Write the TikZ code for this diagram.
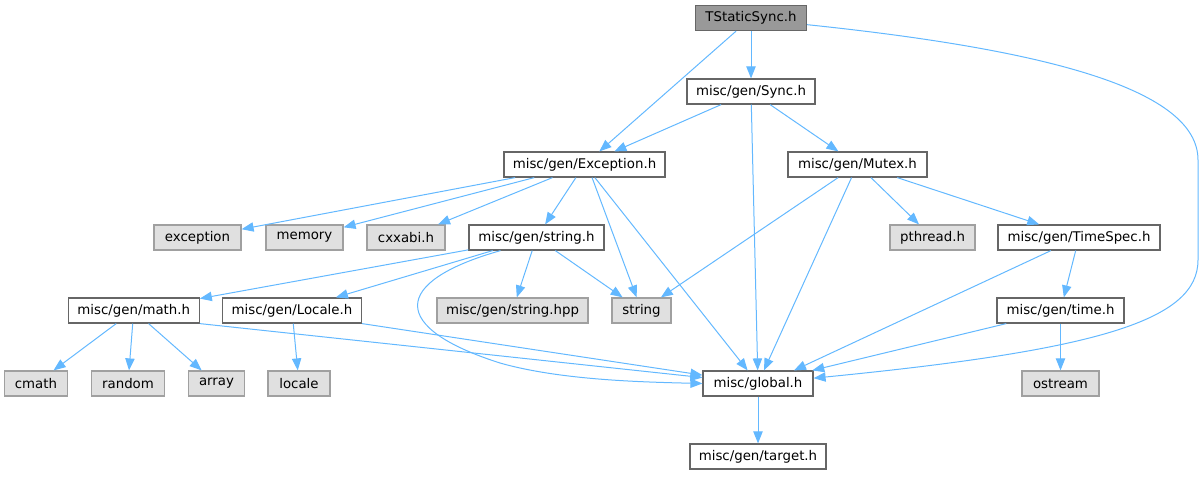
\documentclass[tikz,border=0pt]{standalone}
\usepackage{fontspec}
\setmainfont{DejaVu Sans}
\usetikzlibrary{arrows.meta}

\definecolor{edgeblue}{HTML}{63B8FF}
\definecolor{fileline}{HTML}{666666}
\definecolor{extline}{HTML}{A0A0A0}
\definecolor{extfill}{HTML}{E0E0E0}
\definecolor{rootfill}{HTML}{999999}

\begin{document}
\begin{tikzpicture}[x=0.75pt,y=-0.75pt,->,>={Triangle[length=9pt,width=7pt]},
                    edgeblue,line width=0.75pt,
                    file/.style={rectangle,draw=fileline,fill=white,text=black,inner sep=0pt,
                                 minimum height=18.75pt,minimum width=#1,line width=0.9pt,
                                 font=\fontsize{10pt}{12pt}\selectfont},
                    ext/.style={file=#1,draw=extline,fill=extfill},
                    root/.style={file=#1,fill=rootfill}]

  \useasboundingbox (0,0) rectangle (1203,476);

  \node[root=83.25pt]  (tss)      at (751,18)      {TStaticSync.h};
  \node[file=96pt]     (sync)     at (751,91.5)    {misc/gen/Sync.h};
  \node[file=120.75pt] (exc)      at (584.5,164.5) {misc/gen/Exception.h};
  \node[file=104.25pt] (mutex)    at (857.5,164.5) {misc/gen/Mutex.h};

  \node[ext=65.25pt]   (stdexc)   at (197.5,237.5) {exception};
  \node[ext=57.75pt]   (memory)   at (304.5,237.5) {memory};
  \node[ext=58.5pt]    (cxxabi)   at (406,237.5)   {cxxabi.h};
  \node[file=101.25pt] (strh)     at (536.5,237.5) {misc/gen/string.h};
  \node[ext=63.75pt]   (pthread)  at (932.5,237.5) {pthread.h};
  \node[file=121.5pt]  (tspec)    at (1079,237.5)  {misc/gen/TimeSpec.h};

  \node[file=98.25pt]  (mathh)    at (133.75,310.5) {misc/gen/math.h};
  \node[file=104.25pt] (localeh)  at (292,310.5)   {misc/gen/Locale.h};
  \node[ext=113.25pt]  (strhpp)   at (512.5,310.5) {misc/gen/string.hpp};
  \node[ext=44.25pt]   (stdstr)   at (641.5,310.5) {string};
  \node[file=95.25pt]  (timeh)    at (1060.5,310.5) {misc/gen/time.h};

  \node[ext=47.25pt]   (cmath)    at (36,383.5)    {cmath};
  \node[ext=54.75pt]   (random)   at (128,383.5)   {random};
  \node[ext=42pt]      (array)    at (216.5,383.5) {array};
  \node[ext=46.5pt]    (locale)   at (299,383.5)   {locale};
  \node[file=82.5pt]   (global)   at (758,383.5)   {misc/global.h};
  \node[ext=57.75pt]   (ostream)  at (1060.5,383.5) {ostream};

  \node[file=102pt]    (target)   at (758,456.5)   {misc/gen/target.h};

  \path (tss)   edge (exc)
                edge (sync);
  \path (sync)  edge (exc)
                edge (global)
                edge (mutex);
  \path (exc)   edge (stdexc)
                edge (memory)
                edge (cxxabi)
                edge (strh)
                edge (global);
  \path (exc.-60) edge (stdstr);
  \path (mutex) edge (stdstr)
                edge (global)
                edge (pthread)
                edge (tspec);
  \path (strh)  edge (mathh)
                edge (localeh)
                edge (strhpp)
                edge (stdstr);
  \path (mathh) edge (cmath)
                edge (random)
                edge (array);
  \path (mathh.south east) edge (global);
  \path (localeh) edge (locale);
  \path (localeh.south east) edge (global);
  \path (tspec) edge (global.20)
                edge (timeh);
  \path (timeh) edge (global)
                edge (ostream);
  \path (global) edge (target);

  \draw (strh.-160) .. controls (390,282) and (390,328) .. (500,363)
        .. controls (560,380) and (640,382) .. (global.west);
  \draw ([yshift=-5pt]tss.east) .. controls (1050,50) and (1198,90) .. (1198,160)
        -- (1198,260) .. controls (1198,320) and (1100,350) .. ([yshift=4pt]global.east);

\end{tikzpicture}
\end{document}
